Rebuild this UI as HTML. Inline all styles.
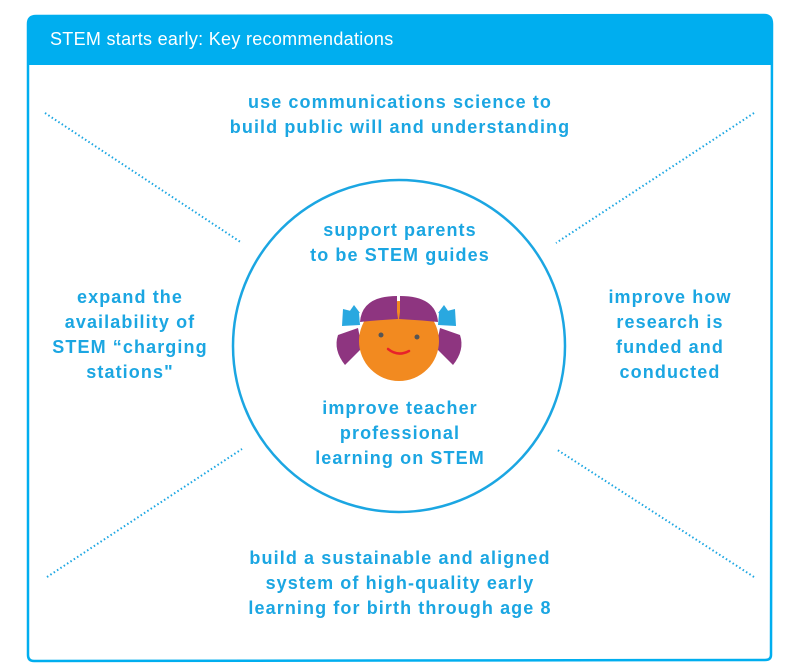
<!DOCTYPE html>
<html><head><style>
body{margin:0;width:792px;height:665px;background:#fff;overflow:hidden;position:relative;font-family:"Liberation Sans",sans-serif}
.t{position:absolute;color:#1ba6e2;font-weight:bold;font-size:18px;line-height:25px;text-align:center;letter-spacing:1.1px}
</style></head><body>
<svg width="792" height="665" style="position:absolute;left:0;top:0">
<path d="M28 24 Q28 16 36 16 L764 15 Q772 15 772 24 L771 655 Q771 660 765 660 L34 661 Q28 661 28 655 Z" fill="none" stroke="#00aeef" stroke-width="2.5"/>
<path d="M28 24 Q28 16 36 16 L764 15 Q772 15 772 24 L772 65 L28 65 Z" fill="#00aeef"/>
<circle cx="399" cy="346" r="166" fill="none" stroke="#1ba6e2" stroke-width="2.5"/>
<g stroke="#1ba6e2" stroke-width="2" stroke-dasharray="1.5 2.5">
<line x1="45" y1="113" x2="242" y2="243"/><line x1="754" y1="113" x2="556" y2="243"/>
<line x1="47" y1="577" x2="242" y2="449"/><line x1="754" y1="577" x2="556" y2="449"/>
</g>
<path d="M338 335 L358 328 L362 348 L345 365 Q333 350 338 335Z" fill="#8e3580"/>
<path d="M460 335 L440 328 L436 348 L453 365 Q465 350 460 335Z" fill="#8e3580"/>
<path d="M343 309 L359 313 L360 325 L342 326Z M347 315 L354 305 L360 313Z" fill="#29a8e0"/>
<path d="M455 309 L439 313 L438 325 L456 326Z M451 315 L444 305 L438 313Z" fill="#29a8e0"/>
<circle cx="399" cy="341" r="40" fill="#f28a20"/>
<path d="M360 322 Q362 296 397 296 L397 312 L398 319 Q380 320 360 322Z" fill="#8e3580"/>
<path d="M438 322 Q436 296 400 296 L400 312 L399 319 Q418 320 438 322Z" fill="#8e3580"/>
<circle cx="381" cy="335" r="2.5" fill="#555"/><circle cx="417" cy="337" r="2.5" fill="#555"/>
<path d="M388 349 Q398 357 409 351" fill="none" stroke="#e8222a" stroke-width="2.5" stroke-linecap="round"/>
</svg>
<div style="position:absolute;left:50px;top:29px;color:#fff;font-size:18px;letter-spacing:0.3px">STEM starts early: Key recommendations</div>
<div class="t" style="left:100px;width:600px;top:90px">use communications science to<br>build public will and understanding</div>
<div class="t" style="left:250px;width:300px;top:218px">support parents<br>to be STEM guides</div>
<div class="t" style="left:250px;width:300px;top:396px">improve teacher<br>professional<br>learning on STEM</div>
<div class="t" style="left:20px;width:220px;top:285px">expand the<br>availability of<br>STEM “charging<br>stations"</div>
<div class="t" style="left:560px;width:220px;top:285px">improve how<br>research is<br>funded and<br>conducted</div>
<div class="t" style="left:100px;width:600px;top:546px">build a sustainable and aligned<br>system of high-quality early<br>learning for birth through age 8</div>
</body></html>
